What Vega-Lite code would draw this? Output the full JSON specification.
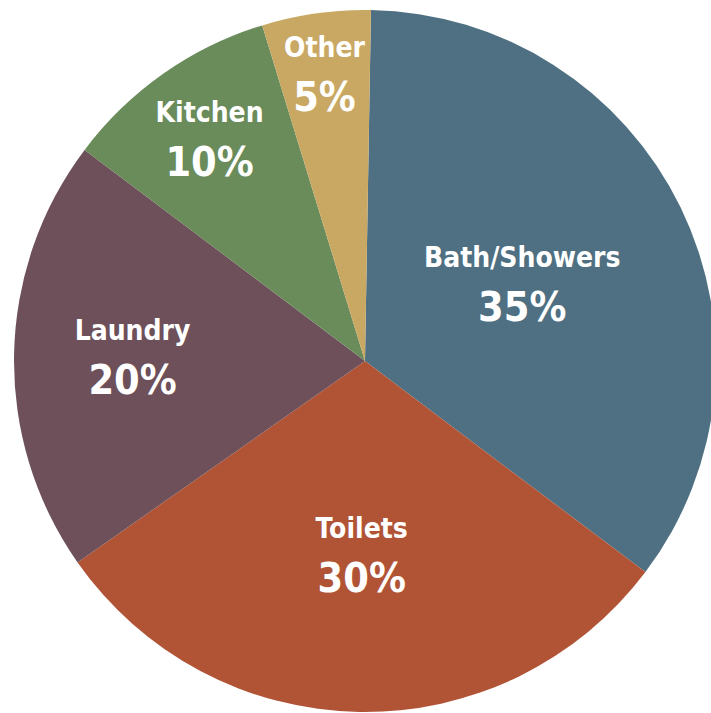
{
  "$schema": "https://vega.github.io/schema/vega-lite/v6.json",
  "autosize": "none",
  "width": 692,
  "height": 704,
  "padding": {"left": 19, "top": 9, "right": 0, "bottom": 0},
  "background": "white",
  "view": {"stroke": null},
  "data": {
    "values": [
      {"category": "Bath/Showers", "value": 35, "pct": "35%", "rank": 1},
      {"category": "Toilets", "value": 30, "pct": "30%", "rank": 2},
      {"category": "Laundry", "value": 20, "pct": "20%", "rank": 3},
      {"category": "Kitchen", "value": 10, "pct": "10%", "rank": 4},
      {"category": "Other", "value": 5, "pct": "5%", "rank": 5}
    ]
  },
  "encoding": {
    "theta": {"field": "value", "type": "quantitative", "stack": true, "scale": {"range": [0.017, 6.3002]}},
    "order": {"field": "rank", "type": "quantitative"}
  },
  "layer": [
    {
      "mark": {"type": "arc", "radius": 351},
      "encoding": {
        "color": {
          "field": "category",
          "type": "nominal",
          "sort": ["Bath/Showers", "Toilets", "Laundry", "Kitchen", "Other"],
          "scale": {
            "domain": ["Bath/Showers", "Toilets", "Laundry", "Kitchen", "Other"],
            "range": ["#4F7082", "#B15436", "#6D5059", "#6A8B5A", "#C9A863"]
          },
          "legend": null
        }
      }
    },
    {
      "mark": {"type": "text", "font": "DejaVu Sans Condensed, Roboto, sans-serif", "fontWeight": "bold", "fontSize": 28, "color": "white", "dy": -25, "baseline": "middle", "align": "center"},
      "encoding": {
        "radius": {"field": "value", "type": "quantitative", "scale": {"type": "linear", "domain": [5, 35], "range": [290, 175], "zero": false}},
        "text": {"field": "category"}
      }
    },
    {
      "mark": {"type": "text", "font": "DejaVu Sans Condensed, Roboto, sans-serif", "fontWeight": "bold", "fontSize": 41, "color": "white", "dy": 25, "baseline": "middle", "align": "center"},
      "encoding": {
        "radius": {"field": "value", "type": "quantitative", "scale": {"type": "linear", "domain": [5, 35], "range": [290, 175], "zero": false}},
        "text": {"field": "pct"}
      }
    }
  ]
}
